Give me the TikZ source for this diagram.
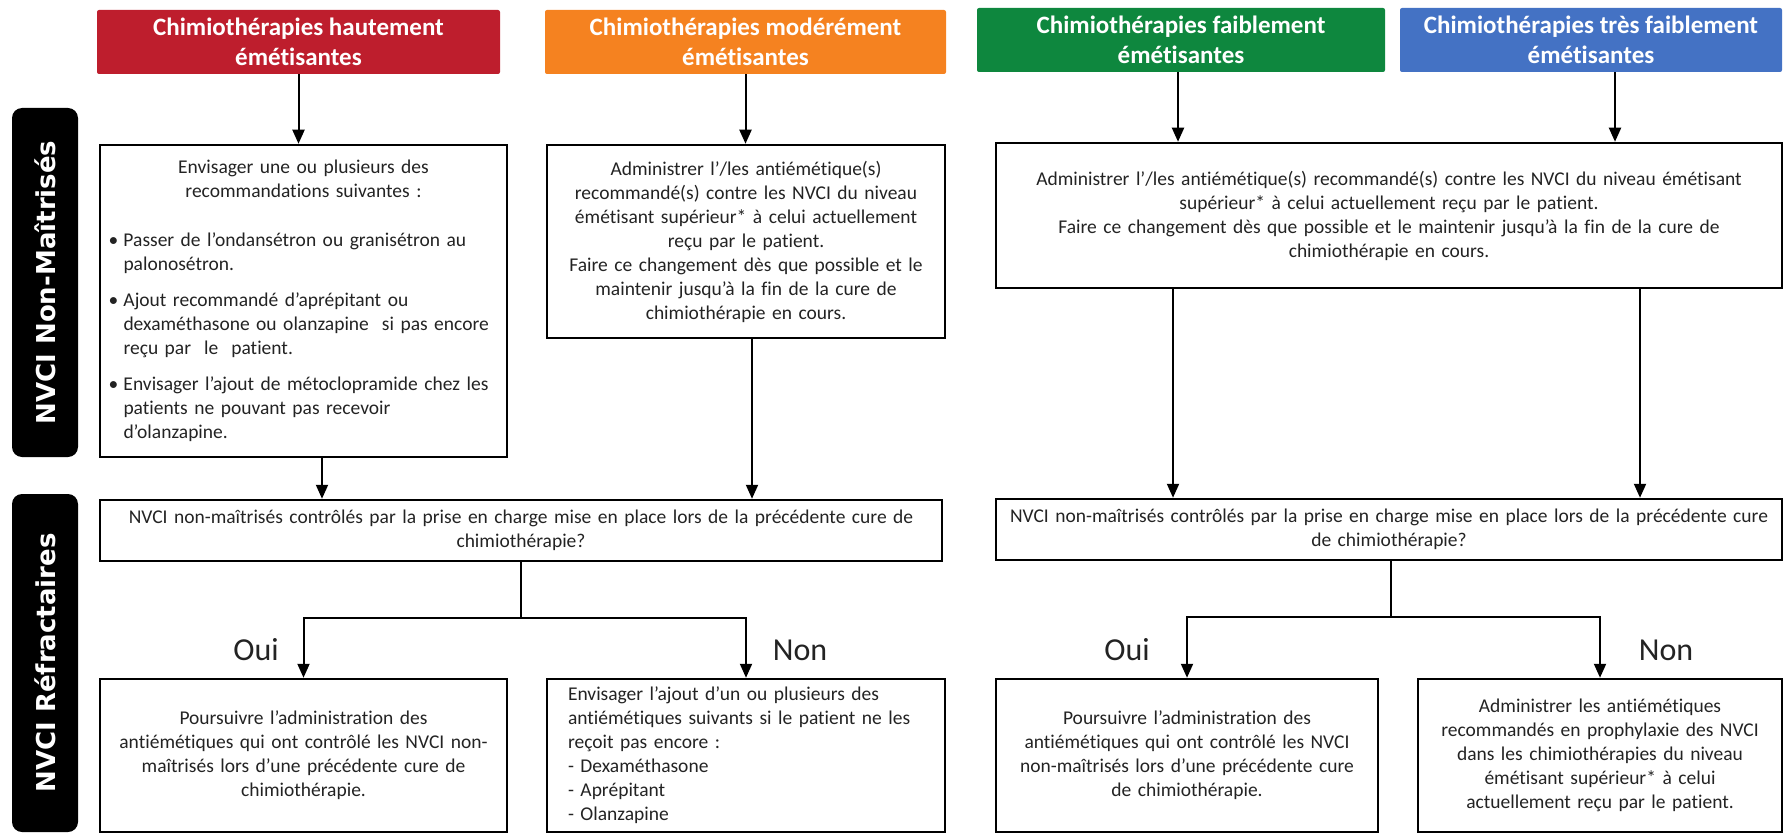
\documentclass[tikz,border=0pt]{standalone}
\usepackage{fontspec}
\setmainfont{Carlito}[Ligatures={TeX,NoCommon}]
\newfontfamily\sidefont{DejaVu Sans}
\usetikzlibrary{arrows.meta}
\definecolor{hautred}{RGB}{190,30,45}
\definecolor{modorange}{RGB}{245,130,32}
\definecolor{faibgreen}{RGB}{14,135,62}
\definecolor{tresblue}{RGB}{68,114,196}
\definecolor{txtgray}{RGB}{35,35,35}

\newcommand{\puce}[1]{\par\noindent\hangindent=15pt\hangafter=1\makebox[15pt][l]{•}#1\par}

\begin{document}
\begin{tikzpicture}[x=1pt, y=-1pt,
  header/.style={fill=#1, rounded corners=2pt, text=white, align=center, inner sep=0pt,
    minimum height=64pt, font=\fontsize{25}{30}\selectfont\bfseries},
  side/.style={fill=black, rounded corners=10pt, text=white, rotate=90, inner sep=0pt,
    minimum height=66pt, font=\sidefont\fontsize{26}{30}\selectfont\bfseries},
  box/.style={draw, line width=2.5pt, fill=white, text=txtgray, inner sep=0pt,
    font=\fontsize{19.5}{24}\selectfont},
  rep/.style={text=txtgray, font=\fontsize{32}{36}\selectfont},
  fleche/.style={-{Triangle[length=14pt,width=12pt]}, line width=2pt}
]
\useasboundingbox (0,0) rectangle (1784,834);

% Headers
\node[header=hautred, minimum width=403pt] (haut) at (298.5,42) {Chimiothérapies hautement\\émétisantes};
\node[header=modorange, minimum width=401pt] (mod) at (745.5,42) {Chimiothérapies modérément\\émétisantes};
\node[header=faibgreen, minimum width=408pt] (faib) at (1181,40) {Chimiothérapies faiblement\\émétisantes};
\node[header=tresblue, minimum width=382pt] (tres) at (1591,40) {Chimiothérapies très faiblement\\émétisantes};

% Side labels
\node[side, minimum width=349pt] (nonmait) at (45,282.5) {NVCI Non-Maîtrisés};
\node[side, minimum width=338pt] (refract) at (45,663) {NVCI Réfractaires};

% Non-maitrises
\node[box, minimum width=407pt, minimum height=312pt, text width=390pt] (recoA) at (303.5,301) {%
  {\centering Envisager une ou plusieurs des\\recommandations suivantes :\par}
  \raggedright\vspace{25pt}
  \puce{Passer de l’ondansétron ou granisétron au\newline palonosétron.}
  \vspace{12pt}
  \puce{Ajout recommandé d’aprépitant ou\newline dexaméthasone ou olanzapine\ \ si pas encore\newline reçu par\ \ le\ \ patient.}
  \vspace{12pt}
  \puce{Envisager l’ajout de métoclopramide chez les\newline patients ne pouvant pas recevoir\newline d’olanzapine.}};
\node[box, align=center, minimum width=398pt, minimum height=193pt, text width=390pt] (recoB) at (746,241.5)
  {Administrer l’/les antiémétique(s)\\recommandé(s) contre les NVCI du niveau\\émétisant supérieur* à celui actuellement\\reçu par le patient.\\Faire ce changement dès que possible et le\\maintenir jusqu’à la fin de la cure de\\chimiothérapie en cours.};
\node[box, align=center, minimum width=786pt, minimum height=145pt, text width=780pt] (recoC) at (1389,215.5)
  {Administrer l’/les antiémétique(s) recommandé(s) contre les NVCI du niveau émétisant\\supérieur* à celui actuellement reçu par le patient.\\Faire ce changement dès que possible et le maintenir jusqu’à la fin de la cure de\\chimiothérapie en cours.};

\draw[fleche] (haut.south) -- (haut.south |- recoA.north);
\draw[fleche] (mod.south) -- (mod.south |- recoB.north);
\draw[fleche] ([xshift=-3pt]faib.south) -- ([xshift=-3pt]faib.south |- recoC.north);
\draw[fleche] ([xshift=24pt]tres.south) -- ([xshift=24pt]tres.south |- recoC.north);

% Refractaires
\node[box, align=center, minimum width=842pt, minimum height=61pt, text width=836pt] (ctrlA) at (521,530.5)
  {NVCI non-maîtrisés contrôlés par la prise en charge mise en place lors de la précédente cure de\\chimiothérapie?};
\node[box, align=center, minimum width=786pt, minimum height=61pt, text width=782pt] (ctrlB) at (1389,529.5)
  {NVCI non-maîtrisés contrôlés par la prise en charge mise en place lors de la précédente cure\\de chimiothérapie?};

\draw[fleche] ([xshift=18.5pt]recoA.south) -- ([xshift=18.5pt]recoA.south |- ctrlA.north);
\draw[fleche] ([xshift=6pt]recoB.south) -- ([xshift=6pt]recoB.south |- ctrlA.north);
\draw[fleche] ([xshift=-216pt]recoC.south) -- ([xshift=-216pt]recoC.south |- ctrlB.north);
\draw[fleche] ([xshift=251pt]recoC.south) -- ([xshift=251pt]recoC.south |- ctrlB.north);

\node[box, align=center, minimum width=407pt, minimum height=153pt, text width=395pt] (ouiA) at (303.5,755.5)
  {Poursuivre l’administration des\\antiémétiques qui ont contrôlé les NVCI non-\\maîtrisés lors d’une précédente cure de\\chimiothérapie.};
\node[box, align=left, minimum width=398pt, minimum height=153pt, text width=356pt] (nonA) at (746,755.5)
  {Envisager l’ajout d’un ou plusieurs des\\antiémétiques suivants si le patient ne les\\reçoit pas encore :\\- Dexaméthasone\\- Aprépitant\\- Olanzapine};
\node[box, align=center, minimum width=382pt, minimum height=153pt, text width=376pt] (ouiB) at (1187,755.5)
  {Poursuivre l’administration des\\antiémétiques qui ont contrôlé les NVCI\\non-maîtrisés lors d’une précédente cure\\de chimiothérapie.};
\node[box, align=center, minimum width=364pt, minimum height=153pt, text width=356pt] (nonB) at (1600,755.5)
  {Administrer les antiémétiques\\recommandés en prophylaxie des NVCI\\dans les chimiothérapies du niveau\\émétisant supérieur* à celui\\actuellement reçu par le patient.};

\coordinate (forkA) at (521,618);
\coordinate (forkB) at (1391,617);
\draw[line width=2pt] (ctrlA.south -| forkA) -- (forkA);
\draw[fleche] (forkA) -| (ouiA.north);
\draw[fleche] (forkA) -| (nonA.north);
\draw[line width=2pt] (ctrlB.south -| forkB) -- (forkB);
\draw[fleche] (forkB) -| (ouiB.north);
\draw[fleche] (forkB) -| (nonB.north);

\node[rep] (ouiAlbl) at (256,650) {Oui};
\node[rep] (nonAlbl) at (800,650) {Non};
\node[rep] (ouiBlbl) at (1127,650) {Oui};
\node[rep] (nonBlbl) at (1666,650) {Non};
\end{tikzpicture}
\end{document}
